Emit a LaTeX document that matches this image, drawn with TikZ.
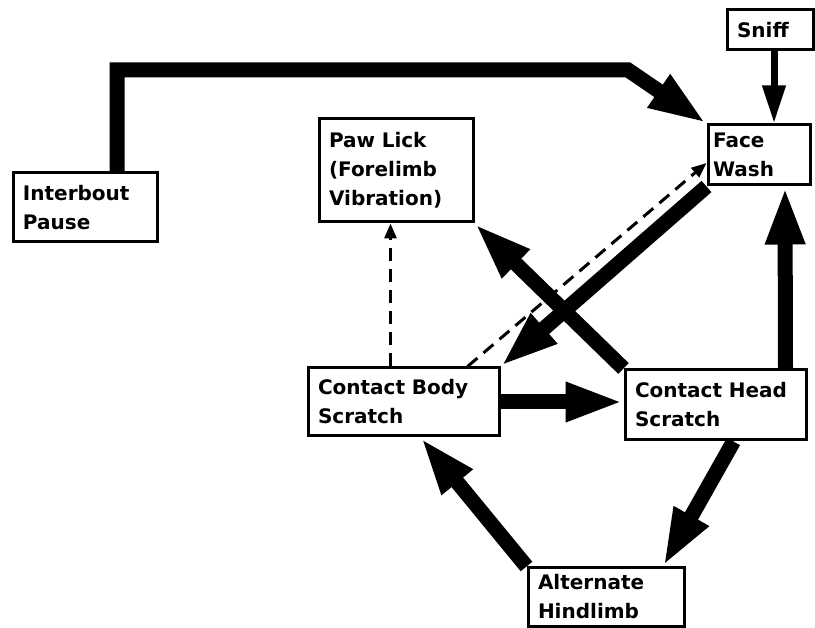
\documentclass[tikz,border=0pt]{standalone}
\usepackage{fontspec}
\setsansfont{DejaVu Sans}
\usetikzlibrary{arrows.meta}

\begin{document}
\begin{tikzpicture}
[x=1pt,y=-1pt,
every node/.style={draw,line width=3pt,align=left,inner xsep=10pt,inner ysep=0pt,
	font=\sffamily\bfseries\fontsize{20}{29}\selectfont},
fat/.style={line width=15pt,-{Triangle[length=58pt,width=36pt]}},
slim/.style={line width=7pt,-{Triangle[length=38pt,width=22pt]}},
dashline/.style={line width=3pt,dash pattern=on 13pt off 8pt,-{Triangle[length=15pt,width=12pt]}}]

\useasboundingbox (0,0) rectangle (815,628);

\node (sn) at (770,30) [text width=66pt,minimum height=40pt] {Sniff};
\node (fw) at (759,155) [inner xsep=5pt,text width=92pt,minimum height=60pt] {Face\\Wash};
\node (ip) at (85,207.5) [text width=124pt,minimum height=69pt] {Interbout\\Pause};
\node (pl) at (396,170.5) [text width=134pt,minimum height=103pt] {Paw Lick\\(Forelimb\\Vibration)};
\node (cbs) at (403.5,402) [text width=171pt,minimum height=68pt] {Contact Body\\Scratch};
\node (chs) at (715.5,405) [text width=161pt,minimum height=70pt] {Contact Head\\Scratch};
\node (ah) at (606,597) [text width=136pt,minimum height=58pt] {Alternate\\Hindlimb};

\coordinate (bend) at (628,70);
\draw[fat] ([xshift=32pt]ip.north) |- (bend) -- (fw.north west);
\draw[slim] ([xshift=4pt]sn.south) -- ([xshift=15pt]fw.north);
\draw[fat] ([xshift=70pt]chs.north) -- ([xshift=26pt]fw.south);
\draw[fat] (fw.south west) -- (cbs.north east);
\draw[dashline] ([xshift=64pt]cbs.north) -- ([yshift=-8pt]fw.west);
\draw[fat] (cbs.east) -- (cbs.east -| chs.west);
\draw[fat] (chs.north west) -- (pl.south east);
\draw[dashline] ([xshift=-13pt]cbs.north) -- ([xshift=-13pt]cbs.north |- pl.south);
\draw[fat] ([xshift=18pt]chs.south) -- ([xshift=57pt]ah.north);
\draw[fat] (ah.north west) -- ([xshift=17pt]cbs.south);
\end{tikzpicture}
\end{document}
